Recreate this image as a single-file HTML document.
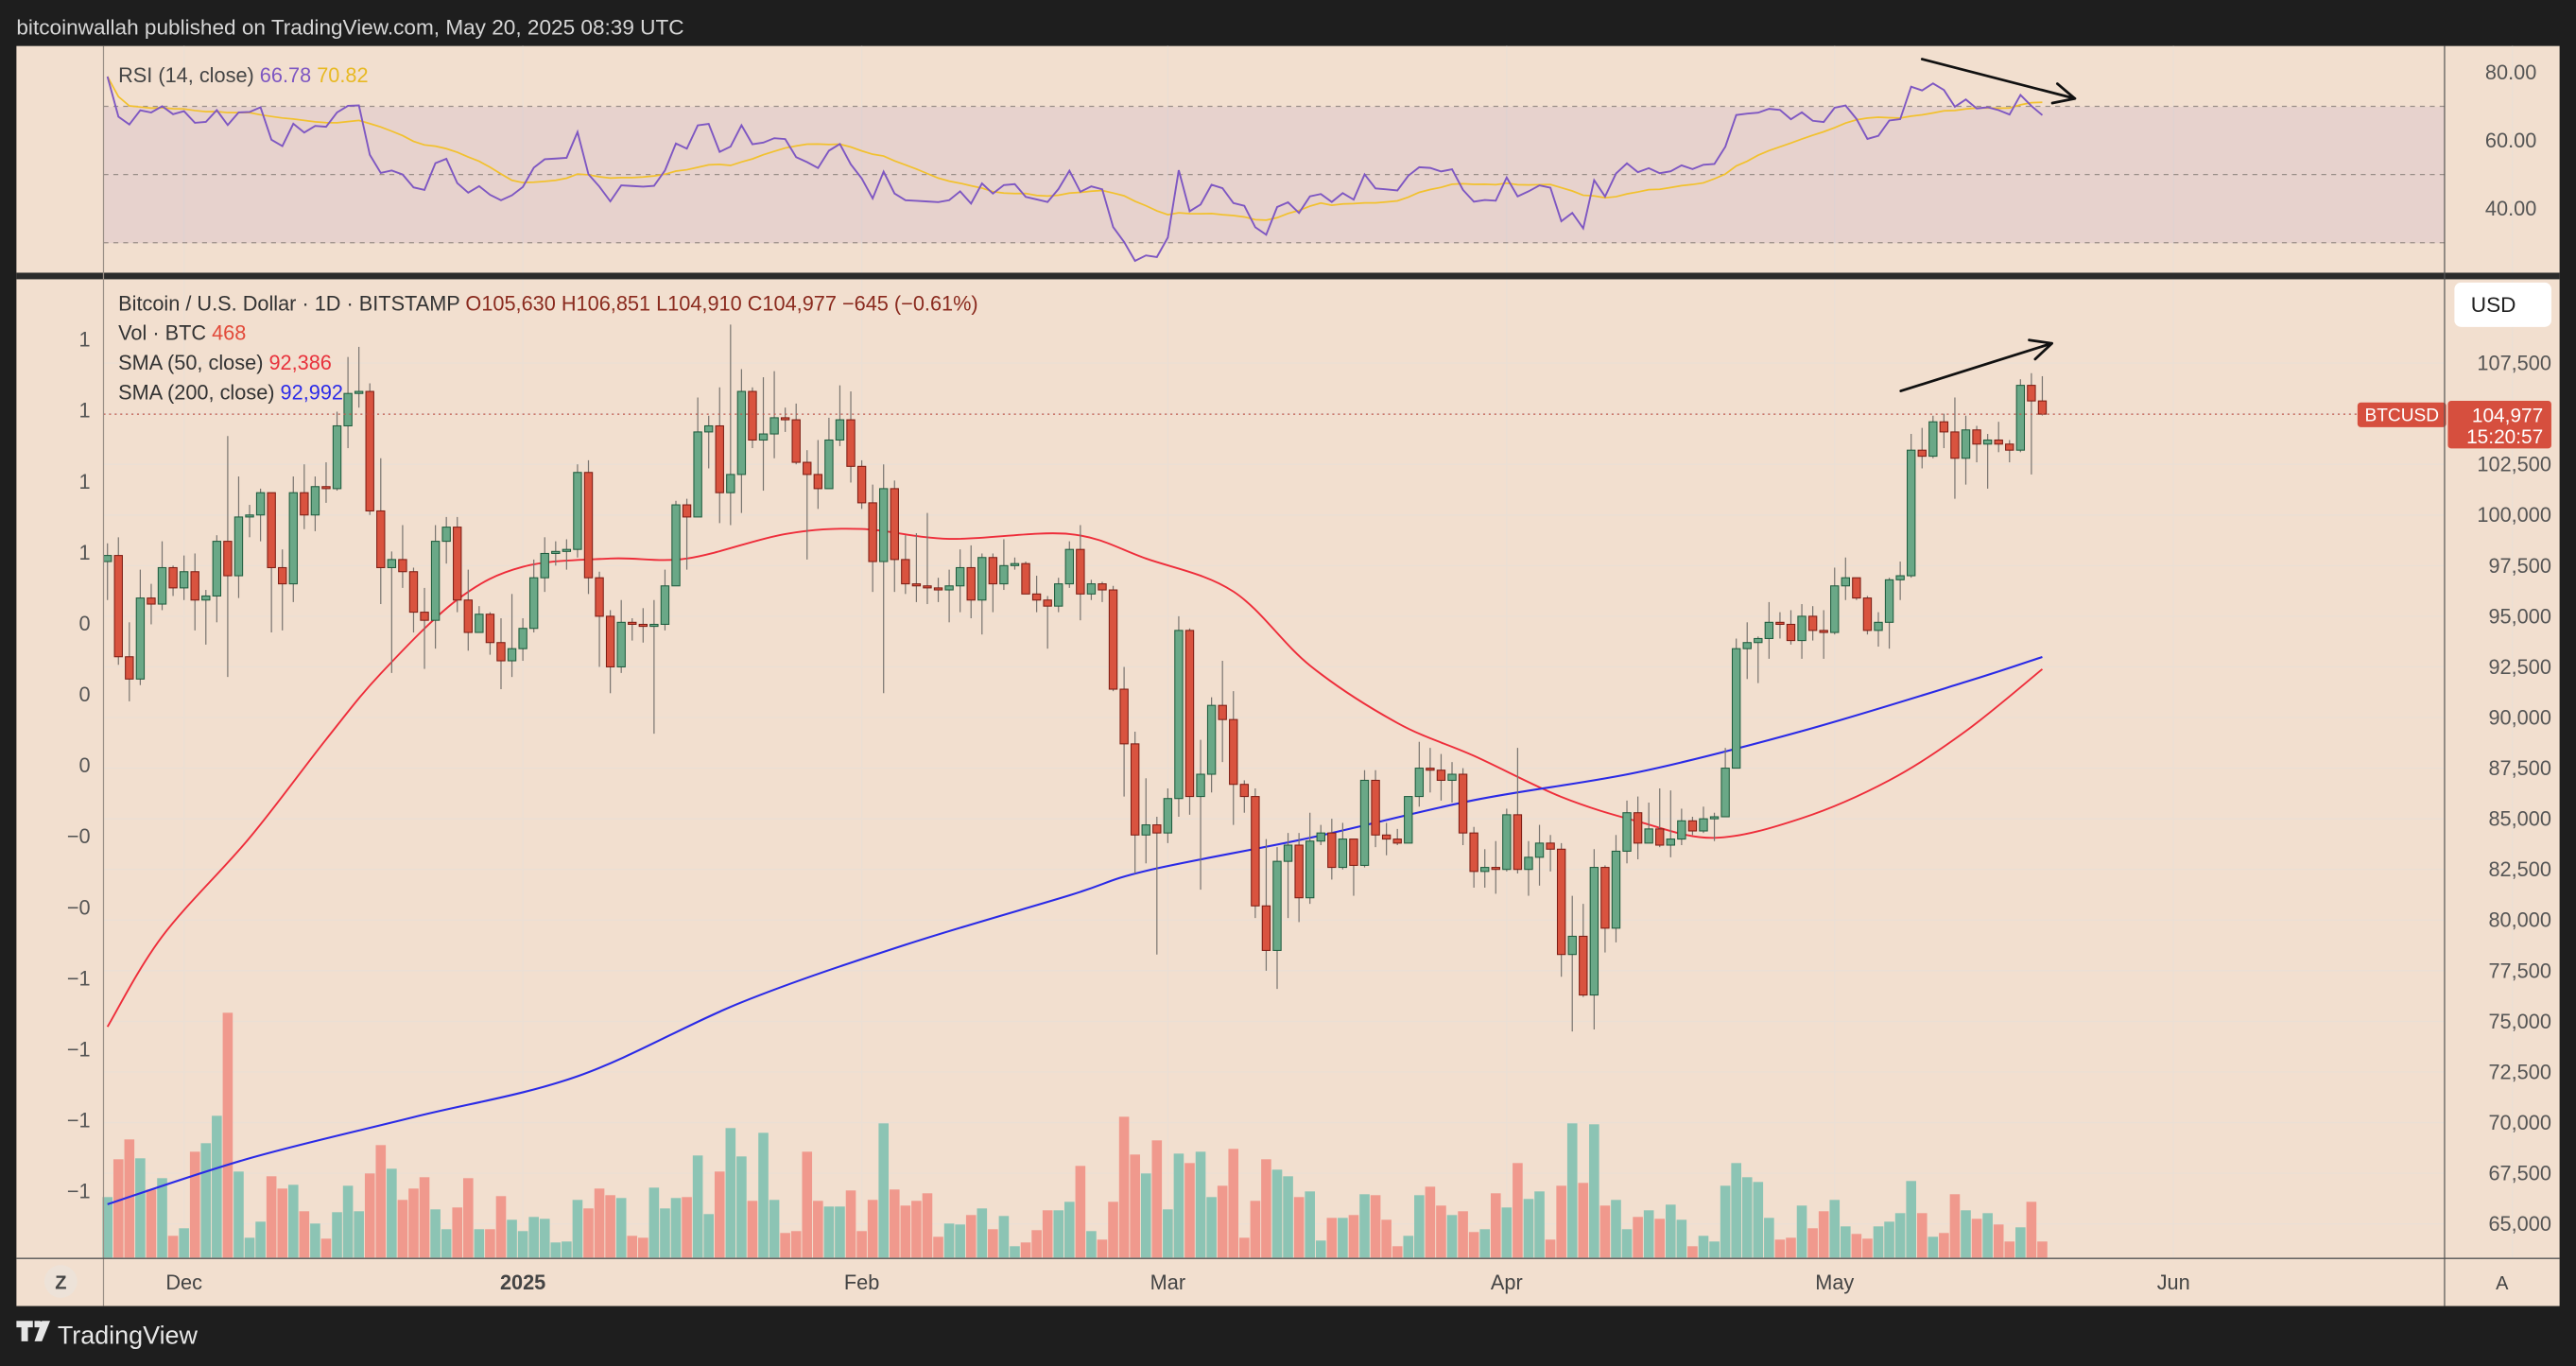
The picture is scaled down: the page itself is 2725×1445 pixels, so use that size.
<!DOCTYPE html>
<html><head><meta charset="utf-8"><style>
html,body{margin:0;padding:0;background:#1e1e1e;}
svg{display:block;font-family:"Liberation Sans",sans-serif;}
</style></head><body>
<svg id="chart" width="2725" height="1445" viewBox="0 0 1568 831.5" preserveAspectRatio="none" xmlns="http://www.w3.org/2000/svg">
<rect x="0" y="0" width="1568" height="831.5" fill="#1e1e1e"/>
<text x="10" y="21" fill="#d6d6d6" font-size="13">bitcoinwallah published on TradingView.com, May 20, 2025 08:39 UTC</text>
<rect x="10" y="28" width="1548" height="767" fill="#f2dfcf"/>
<g id="grid"></g>
<rect x="63" y="65" width="1425" height="83" fill="rgba(126,87,194,0.09)"/>
<g id="rsiPane"></g>
<rect x="10" y="166" width="1548" height="4" fill="#2b2b2b"/>
<g id="vol"></g>
<g id="smas"></g>
<g id="candles"></g>
<g id="axes"></g>
<line x1="63" y1="28" x2="63" y2="795" stroke="#9a8f86" stroke-width="0.7"/>
<line x1="1488" y1="28" x2="1488" y2="795" stroke="#555" stroke-width="0.7"/>
<line x1="10" y1="766" x2="1558" y2="766" stroke="#555" stroke-width="0.8"/>
<g id="arrows"></g>
<g id="legend">
<text x="72" y="50" font-size="12.5" fill="#444">RSI (14, close) <tspan fill="#7e57c2">66.78</tspan> <tspan fill="#e8b923">70.82</tspan></text>
<text x="72" y="189" font-size="12.5" fill="#333">Bitcoin / U.S. Dollar · 1D · BITSTAMP  <tspan fill="#8a2a1e">O105,630 </tspan><tspan fill="#8a2a1e">H106,851 </tspan><tspan fill="#8a2a1e">L104,910 </tspan><tspan fill="#8a2a1e">C104,977 </tspan><tspan fill="#8a2a1e">−645 (−0.61%)</tspan></text>
<text x="72" y="207" font-size="12.5" fill="#333">Vol · BTC  <tspan fill="#e24a3a">468</tspan></text>
<text x="72" y="225" font-size="12.5" fill="#333">SMA (50, close)  <tspan fill="#e8323c">92,386</tspan></text>
<text x="72" y="243" font-size="12.5" fill="#333">SMA (200, close)  <tspan fill="#2b2be8">92,992</tspan></text>
</g>
<rect x="1494" y="172" width="59" height="27" rx="4" fill="#ffffff"/>
<text x="1504" y="190" font-size="13" fill="#222">USD</text>
<circle cx="37" cy="780" r="10" fill="#ede2d8"/>
<text x="37" y="784.5" font-size="11.5" fill="#444" text-anchor="middle" font-weight="bold">Z</text>
<text x="1523" y="785" font-size="11.5" fill="#444" text-anchor="middle">A</text>
<g>
<path d="M10 804 h10 v4 h-3 v8.5 h-4 v-8.5 h-3z M21 804 h3 a2 2 0 0 1 0 4 h-3z M25.5 804 h5 l-5 12.5 h-4.5z" fill="#e6e6e6"/>
<text x="35" y="818" font-size="15.5" fill="#e6e6e6">TradingView</text>
</g>
</svg>
<script>
const closesK = [80.4,88.7,87.9,90.5,87.3,91.1,90.6,89.8,90.5,92.3,94.3,98.4,98.9,97.7,
98.0,93.0,91.9,95.9,95.6,97.4,96.4,
97.2,95.8,96.0,98.7,97.0,99.9,100.0,101.1,97.4,96.6,101.1,100.0,101.4,101.3,104.4,106.0,106.1,100.2,97.4,97.8,97.2,95.2,94.8,98.7,99.4,95.8,94.2,95.1,93.7,92.8,93.4,
94.4,96.9,98.1,98.2,98.3,102.1,96.9,95.0,92.5,94.7,94.6,94.5,94.6,96.5,100.5,99.9,104.1,104.4,101.1,102.0,106.1,103.7,104.0,104.8,104.7,102.6,102.0,101.3,103.7,104.7,102.4,
100.6,97.7,101.3,97.8,96.6,96.5,96.4,96.3,96.5,97.4,95.8,97.9,96.6,97.5,97.6,96.1,95.8,95.5,96.6,98.3,96.1,96.6,96.3,91.4,88.7,84.2,84.7,84.3,
86.0,94.3,86.1,87.2,90.6,89.9,86.7,86.1,80.7,78.5,82.9,83.7,81.1,83.9,84.3,82.6,84.0,82.7,86.9,84.2,84.0,83.8,86.1,87.5,87.4,86.9,87.2,84.3,82.4,82.6,82.5,
85.2,82.5,83.1,83.8,83.5,78.3,79.2,76.3,82.6,79.6,83.4,85.3,83.8,84.5,83.7,84.0,84.9,84.4,85.0,85.1,87.5,93.4,93.7,93.9,94.7,94.6,93.8,95.0,94.3,94.2,
96.5,96.9,95.9,94.3,94.7,96.8,97.0,103.2,102.9,104.6,104.1,102.8,104.2,103.5,103.7,103.5,103.2,106.4,105.63,104.977];
const highsK = [98.6,98.9,94.7,97.3,96.6,98.7,97.5,
98.0,98.1,96.3,99.0,103.9,101.9,100.5,101.3,101.1,98.3,101.9,102.5,101.9,102.6,105.1,107.8,108.3,106.5,102.8,98.2,99.5,97.4,96.4,99.5,99.9,99.9,97.3,95.5,95.2,94.9,96.1,
94.9,97.8,98.9,98.7,98.8,102.5,102.7,97.2,95.3,95.8,94.9,95.4,95.8,97.3,100.7,100.8,105.8,104.9,106.3,109.4,107.2,106.3,106.8,107.1,105.3,105.5,103.2,103.7,104.8,106.4,106.1,
102.7,101.5,102.5,101.7,99.0,99.1,100.1,96.9,97.3,98.3,98.5,98.1,98.1,98.8,97.9,97.7,97.0,96.0,96.9,98.7,99.5,96.8,96.7,96.5,92.5,89.3,87.0,85.1,
86.5,95.0,94.4,88.9,91.0,92.8,91.3,86.9,86.5,84.0,83.6,84.3,84.3,85.3,84.7,85.0,84.8,84.0,87.4,87.4,84.8,84.5,86.1,88.8,88.5,88.2,87.8,87.5,84.6,83.5,83.9,
85.5,88.5,83.9,84.7,84.2,83.8,81.2,80.8,83.5,82.7,84.2,85.9,86.1,85.8,86.5,86.4,85.5,85.1,85.6,85.3,88.5,93.9,94.7,94.0,95.7,95.2,95.3,95.6,95.5,95.3,
97.4,97.9,96.9,96.0,95.2,96.9,97.7,104.0,104.3,104.9,105.0,105.8,104.9,104.4,104.0,104.6,103.7,106.7,107.0,106.851];
const lowsK = [95.8,92.6,90.8,91.6,94.6,95.3,96.0,
95.8,94.3,93.6,94.7,92.0,95.9,98.9,98.7,94.2,94.3,95.7,99.3,99.2,100.6,101.2,103.3,105.3,100.0,95.6,92.2,96.4,94.2,92.4,93.4,97.6,95.2,93.3,94.2,93.1,91.4,92.0,
92.8,94.2,96.2,97.5,97.3,97.9,96.1,92.5,91.2,92.2,93.8,93.7,89.2,94.3,96.5,97.3,99.9,102.3,99.6,99.5,100.1,103.3,101.2,102.8,104.1,102.5,97.8,100.3,101.3,103.4,101.6,
100.3,96.2,91.2,96.2,96.1,95.7,95.6,95.7,94.7,95.2,94.9,94.1,95.2,96.3,97.3,96.1,95.2,93.4,95.2,96.4,94.8,95.8,95.7,91.3,86.1,82.3,82.8,78.3,
83.8,85.1,85.2,81.5,86.3,87.8,84.7,85.3,80.1,77.5,76.6,80.1,79.9,80.8,83.7,82.0,82.5,81.2,82.6,83.6,83.2,83.7,83.8,85.6,86.3,85.9,85.8,83.7,81.6,81.6,81.3,
82.4,82.3,81.2,81.7,82.4,77.2,74.5,76.2,74.6,78.4,78.9,82.8,83.0,83.8,83.6,83.1,83.7,84.2,84.3,83.9,85.1,87.6,91.9,91.7,92.9,93.9,93.6,92.9,93.8,92.9,
94.1,95.8,95.8,94.1,93.5,93.4,95.8,96.9,102.3,102.8,103.3,100.8,101.5,102.6,101.3,103.1,102.6,103.1,102.0,104.91];
const volumes = [64,104,125,105,72,84,23,31,112,121,150,259,91,21,38,86,73,77,49,36,20,48,76,49,89,119,94,61,73,85,51,30,53,84,
30,30,65,40,28,43,41,16,17,61,52,73,66,63,23,21,74,52,63,64,108,46,91,137,107,60,132,61,26,28,112,60,54,54,71,28,61,142,72,55,60,68,22,36,35,45,52,30,44,12,16,29,50,50,59,97,28,19,59,149,109,89,124,51,110,100,112,64,76,115,21,60,104,93,86,64,70,18,42,42,45,67,66,40,12,23,66,75,55,45,49,
27,30,68,53,100,62,70,19,76,142,79,141,55,61,30,43,50,41,56,40,12,23,17,76,100,85,80,42,19,21,55,31,49,61,33,25,20,33,38,47,81,47,22,26,67,50,41,47,35,17,32,59,17];
const firstDay = -7; // Nov 24 relative to Dec 1
const preBars = 14;
const smaDays = [-7,-2,6,13,18,25,31,39,46,55,62,70,81,88,96,103,111,118,126,133,140,148,156,163,170];
const sma50K = [74.73,79.19,84.06,88.92,92.17,95.82,97.44,97.85,97.85,99.06,99.31,98.82,99.06,97.85,96.22,92.57,89.73,88.11,86.08,84.87,84.06,85.03,86.90,89.33,92.39];
const sma200Days = [-7,6,21,36,51,66,81,88,103,118,133,148,163,170];
const sma200K = [65.97,68.24,70.27,72.29,75.94,78.78,81.22,82.43,84.06,85.92,87.30,89.33,91.76,92.99];
const priceTicks = [107500,102500,100000,97500,95000,92500,90000,87500,85000,82500,80000,77500,75000,72500,70000,67500,65000];
const gridPrices = [107500,105000,102500,100000,97500,95000,92500,90000,87500,85000,82500,80000,77500,75000,72500,70000,67500,65000];
const leftLabels = ["1","1","1","1","0","0","0","−0","−0","−1","−1","−1","−1"];
const monthLabels = ["Dec","2025","Feb","Mar","Apr","May","Jun"];
const monthDays = [0,31,62,90,121,151,182];
const rsiTicks = [80,60,40];

const NS="http://www.w3.org/2000/svg";
function mk(tag, parent, attrs){const e=document.createElementNS(NS,tag);for(const k in attrs)e.setAttribute(k,attrs[k]);parent.appendChild(e);return e;}
const xOf = d => 112 + d*(1323-112)/182;
const yOf = p => 221 + (107500-p)*(745-221)/42500;
const yR = r => 44 + (80-r)*(127-44)/40;
const volBase = 765.5, volK = 1/1.738;
function smooth(pts){let d='M'+pts[0][0].toFixed(2)+' '+pts[0][1].toFixed(2);
for(let i=0;i<pts.length-1;i++){const p0=pts[Math.max(i-1,0)],p1=pts[i],p2=pts[i+1],p3=pts[Math.min(i+2,pts.length-1)];
const c1x=p1[0]+(p2[0]-p0[0])/6,c1y=p1[1]+(p2[1]-p0[1])/6,c2x=p2[0]-(p3[0]-p1[0])/6,c2y=p2[1]-(p3[1]-p1[1])/6;
d+=` C${c1x.toFixed(2)} ${c1y.toFixed(2)} ${c2x.toFixed(2)} ${c2y.toFixed(2)} ${p2[0].toFixed(2)} ${p2[1].toFixed(2)}`;}return d;}

const grid=document.getElementById('grid');
gridPrices.forEach(p=>{const l=mk('line',grid,{x1:63,x2:1488,y1:yOf(p),y2:yOf(p),stroke:'#ebdfd4','stroke-width':0.8});

});
monthDays.concat([213]).forEach(d=>{const l=mk('line',grid,{x1:xOf(d),x2:xOf(d),y1:28,y2:766,stroke:'#ebdfd4','stroke-width':0.8});

});

// RSI pane
const rp=document.getElementById('rsiPane');
[70,50,30].forEach(r=>{const l=mk('line',rp,{x1:63,x2:1488,y1:yR(r),y2:yR(r),stroke:'#9a8e88','stroke-width':0.7,'stroke-dasharray':'3,3'});

});
const rsi=[];let ag=0,al=0;
for(let i=1;i<=14;i++){const ch=closesK[i]-closesK[i-1];if(ch>0)ag+=ch;else al-=ch;}
ag/=14;al/=14;rsi[14]=100-100/(1+ag/al);
for(let i=15;i<closesK.length;i++){const ch=closesK[i]-closesK[i-1];ag=(ag*13+Math.max(ch,0))/14;al=(al*13+Math.max(-ch,0))/14;rsi[i]=100-100/(1+ag/al);}
let rp1='',rp2='';
for(let i=preBars;i<closesK.length;i++){const d=firstDay+i-preBars;rp1+=(i===preBars?'M':'L')+xOf(d).toFixed(2)+' '+yR(rsi[i]).toFixed(2);
let s=0,n=0;for(let j=Math.max(preBars,i-13);j<=i;j++){s+=rsi[j];n++;}rp2+=(i===preBars?'M':'L')+xOf(d).toFixed(2)+' '+yR(s/n).toFixed(2);}
const rma=mk('path',rp,{d:rp2,fill:'none',stroke:'#f2c12e','stroke-width':1});


const rl=mk('path',rp,{d:rp1,fill:'none',stroke:'#7e57c2','stroke-width':1.1});



// volume
const vg=document.getElementById('vol');
for(let k=0;k<volumes.length;k++){const i=k+preBars;const up=closesK[i]>=closesK[i-1];const x=xOf(firstDay+k);const h=volumes[k]*volK;
const r=mk('rect',vg,{x:x-3.05,y:volBase-h,width:6.1,height:h,fill:up?'#8cc4b4':'#f0998d'});

}

// SMAs
const sg=document.getElementById('smas');
const s50=mk('path',sg,{d:smooth(smaDays.map((d,i)=>[xOf(d),yOf(sma50K[i]*1000)])),fill:'none',stroke:'#ee2d3a','stroke-width':1.1});


const s200=mk('path',sg,{d:smooth(sma200Days.map((d,i)=>[xOf(d),yOf(sma200K[i]*1000)])),fill:'none',stroke:'#2a2ae6','stroke-width':1.2});



// candles
const cg=document.getElementById('candles');
for(let k=0;k<highsK.length;k++){const i=k+preBars;const o=closesK[i-1]*1000,c=closesK[i]*1000;
const hi=Math.max(highsK[k]*1000,o,c),lo=Math.min(lowsK[k]*1000,o,c);const up=c>=o;const x=xOf(firstDay+k);
const w=mk('line',cg,{x1:x,x2:x,y1:yOf(hi),y2:yOf(lo),stroke:'#7a7570','stroke-width':0.7});


const yt=yOf(Math.max(o,c)),yb=yOf(Math.min(o,c));
const b=mk('rect',cg,{x:x-2.4,y:yt,width:4.8,height:Math.max(yb-yt,0.8),fill:up?'#6aa887':'#d9533f',stroke:up?'#1f5c3e':'#7d1d14','stroke-width':0.6});

}

const ax=document.getElementById('axes');
const cur=104977;
const cl=mk('line',ax,{x1:63,x2:1488,y1:yOf(cur),y2:yOf(cur),stroke:'#c0574a','stroke-width':0.7,'stroke-dasharray':'1.2,2.2'});


priceTicks.forEach(p=>{const t=mk('text',ax,{x:1553,y:yOf(p)+4.3,'font-size':12.5,fill:'#555','text-anchor':'end'});t.textContent=p.toLocaleString('en-US');

});
leftLabels.forEach((s,i)=>{const t=mk('text',ax,{x:55,y:211+i*43.2,'font-size':12.5,fill:'#555','text-anchor':'end'});t.textContent=s;

});
rsiTicks.forEach(r=>{const t=mk('text',ax,{x:1544,y:yR(r)+4.3,'font-size':12.5,fill:'#555','text-anchor':'end'});t.textContent=r.toFixed(2);

});
monthLabels.forEach((m,i)=>{const t=mk('text',ax,{x:xOf(monthDays[i]),y:785,'font-size':12.5,fill:'#444','text-anchor':'middle','font-weight':m==='2025'?'bold':'normal'});t.textContent=m;

});
const bl=mk('rect',ax,{x:1435,y:245,width:54,height:15,rx:2,fill:'#d64f3e'});


const bt=mk('text',ax,{x:1462,y:256.5,'font-size':11,fill:'#fff','text-anchor':'middle'});bt.textContent='BTCUSD';


const pl=mk('rect',ax,{x:1490,y:244,width:63,height:29,rx:2,fill:'#d64f3e'});


const pt=mk('text',ax,{x:1548,y:257,'font-size':12,fill:'#fff','text-anchor':'end'});pt.textContent='104,977';


const ct=mk('text',ax,{x:1548,y:270,'font-size':12,fill:'#fff','text-anchor':'end'});ct.textContent='15:20:57';



const ag2=document.getElementById('arrows');
function arrow(x1,y1,x2,y2,name){const dx=x2-x1,dy=y2-y1,L=Math.hypot(dx,dy),ux=dx/L,uy=dy/L,s=14,a=0.45;
const w1x=x2-s*(ux*Math.cos(a)-uy*Math.sin(a)),w1y=y2-s*(uy*Math.cos(a)+ux*Math.sin(a));
const w2x=x2-s*(ux*Math.cos(a)+uy*Math.sin(a)),w2y=y2-s*(uy*Math.cos(a)-ux*Math.sin(a));
const p=mk('path',ag2,{d:`M${x1} ${y1}L${x2} ${y2}M${w1x} ${w1y}L${x2} ${y2}L${w2x} ${w2y}`,fill:'none',stroke:'#111','stroke-width':1.6,'stroke-linecap':'round','stroke-linejoin':'round'});

}
arrow(1157,238,1249,209,'price-trend-arrow');
arrow(1170,36,1263,60,'rsi-trend-arrow');
</script>
</body></html>
